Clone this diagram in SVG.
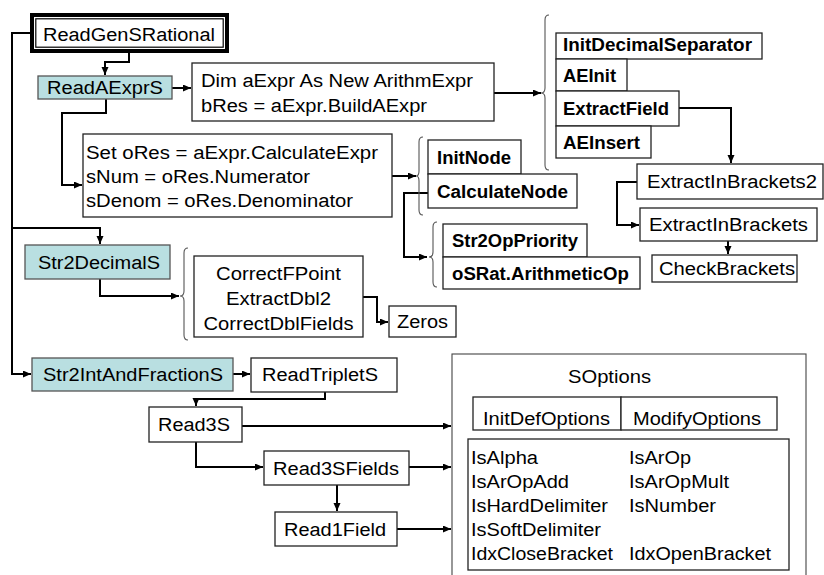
<svg xmlns="http://www.w3.org/2000/svg" width="824" height="575" viewBox="0 0 824 575">
<style>
text{font-family:"Liberation Sans",Arial,sans-serif;font-size:18px;fill:#000}
.b{font-weight:bold}
.box{fill:#fff;stroke:#222;stroke-width:1.3}
.teal{fill:#b9dfe1;stroke:#555;stroke-width:1.3}
.thin{fill:#fff;stroke:#444;stroke-width:1.1}
.c{fill:none;stroke:#000;stroke-width:2}
.br{fill:none;stroke:#555;stroke-width:1.1}
</style>
<defs>
<marker id="a" markerUnits="userSpaceOnUse" markerWidth="9" markerHeight="8" refX="8" refY="3.5" orient="auto">
<path d="M0,0 L8,3.5 L0,7 z" fill="#000"/>
</marker>
</defs>

<g id="connectors">
<polyline class="c" points="30,33 12,33 12,374 31,374" marker-end="url(#a)"/>
<polyline class="c" points="12,228 100,228 100,244" marker-end="url(#a)"/>
<polyline class="c" points="129,53 129,62 105,62 105,75" marker-end="url(#a)"/>
<polyline class="c" points="172,88 191,88" marker-end="url(#a)"/>
<polyline class="c" points="106,99 106,113 62,113 62,185 82,185" marker-end="url(#a)"/>
<polyline class="c" points="494,93 541,93" marker-end="url(#a)"/>
<polyline class="c" points="392,176 416,176" marker-end="url(#a)"/>
<polyline class="c" points="428,193 404,193 404,257 427,257" marker-end="url(#a)"/>
<polyline class="c" points="679,108 731,108 731,163" marker-end="url(#a)"/>
<polyline class="c" points="637,182 617,182 617,225 639,225" marker-end="url(#a)"/>
<polyline class="c" points="728,241 728,254" marker-end="url(#a)"/>
<polyline class="c" points="100,279 100,296 179,296" marker-end="url(#a)"/>
<polyline class="c" points="363,297 377,297 377,322 388,322" marker-end="url(#a)"/>
<polyline class="c" points="233,374 250,374" marker-end="url(#a)"/>
<polyline class="c" points="325,392 325,399 196,399 196,406" marker-end="url(#a)"/>
<polyline class="c" points="242,426 451,426" marker-end="url(#a)"/>
<polyline class="c" points="196,442 196,467 263,467" marker-end="url(#a)"/>
<polyline class="c" points="409,467 451,467" marker-end="url(#a)"/>
<polyline class="c" points="337,485 337,511" marker-end="url(#a)"/>
<polyline class="c" points="397,529 451,529" marker-end="url(#a)"/>
</g>

<g id="braces">
<path class="br" d="M549,15 Q545,15 545,20 L545,88 Q545,93 541,93 Q545,93 545,98 L545,165 Q545,170 549,170"/>
<path class="br" d="M423,137 Q419,137 419,142 L419,171 Q419,176 416,176 Q419,176 419,181 L419,210 Q419,215 423,215"/>
<path class="br" d="M437,222 Q433,222 433,227 L433,252 Q433,257 429,257 Q433,257 433,262 L433,282 Q433,287 437,287"/>
<path class="br" d="M188,248 Q184,248 184,253 L184,291 Q184,296 180,296 Q184,296 184,301 L184,335 Q184,340 188,340"/>
</g>

<g id="ReadGenSRational">
<rect x="32" y="15" width="195" height="36" fill="#fff" stroke="#000" stroke-width="4"/>
<rect x="35.8" y="18.8" width="187.4" height="28.4" fill="none" stroke="#000" stroke-width="1.2"/>
<text x="43" y="41" textLength="172" lengthAdjust="spacingAndGlyphs">ReadGenSRational</text>
</g>

<g id="ReadAExprS">
<rect class="teal" x="38" y="76" width="134" height="23"/>
<text x="47" y="94" textLength="116" lengthAdjust="spacingAndGlyphs">ReadAExprS</text>
</g>

<g id="DimBox">
<rect class="box" x="192" y="63" width="302" height="58"/>
<text x="201" y="87" textLength="272" lengthAdjust="spacingAndGlyphs">Dim aExpr As New ArithmExpr</text>
<text x="201" y="112" textLength="226" lengthAdjust="spacingAndGlyphs">bRes = aExpr.BuildAExpr</text>
</g>

<g id="SetBox">
<rect class="box" x="83" y="134" width="309" height="83"/>
<text x="86" y="159" textLength="292" lengthAdjust="spacingAndGlyphs">Set oRes = aExpr.CalculateExpr</text>
<text x="86" y="183" textLength="224" lengthAdjust="spacingAndGlyphs">sNum = oRes.Numerator</text>
<text x="86" y="207" textLength="267" lengthAdjust="spacingAndGlyphs">sDenom = oRes.Denominator</text>
</g>

<g id="InitDecimalSeparator">
<rect class="box" x="556" y="33" width="206" height="26"/>
<text class="b" x="563" y="51" textLength="189" lengthAdjust="spacingAndGlyphs">InitDecimalSeparator</text>
</g>
<g id="AEInit">
<rect class="box" x="556" y="59" width="71" height="32"/>
<text class="b" x="563" y="81.5" textLength="53" lengthAdjust="spacingAndGlyphs">AEInit</text>
</g>
<g id="ExtractField">
<rect class="box" x="556" y="91" width="123" height="35"/>
<text class="b" x="563" y="115" textLength="106" lengthAdjust="spacingAndGlyphs">ExtractField</text>
</g>
<g id="AEInsert">
<rect class="box" x="556" y="126" width="95" height="32"/>
<text class="b" x="563" y="148.5" textLength="77" lengthAdjust="spacingAndGlyphs">AEInsert</text>
</g>

<g id="ExtractInBrackets2">
<rect class="box" x="637" y="164" width="186" height="35"/>
<text x="647" y="188" textLength="170" lengthAdjust="spacingAndGlyphs">ExtractInBrackets2</text>
</g>
<g id="ExtractInBrackets">
<rect class="box" x="640" y="208" width="177" height="33"/>
<text x="649" y="231" textLength="159" lengthAdjust="spacingAndGlyphs">ExtractInBrackets</text>
</g>
<g id="CheckBrackets">
<rect class="box" x="652" y="255" width="145" height="27"/>
<text x="659" y="275" textLength="136" lengthAdjust="spacingAndGlyphs">CheckBrackets</text>
</g>

<g id="InitNode">
<rect class="box" x="428" y="140" width="93" height="34"/>
<text class="b" x="437" y="163.5" textLength="74" lengthAdjust="spacingAndGlyphs">InitNode</text>
</g>
<g id="CalculateNode">
<rect class="box" x="428" y="174" width="149" height="34"/>
<text class="b" x="437" y="197.5" textLength="131" lengthAdjust="spacingAndGlyphs">CalculateNode</text>
</g>
<g id="Str2OpPriority">
<rect class="box" x="443" y="224" width="144" height="33"/>
<text class="b" x="452" y="247" textLength="126" lengthAdjust="spacingAndGlyphs">Str2OpPriority</text>
</g>
<g id="ArithmeticOp">
<rect class="box" x="443" y="257" width="197" height="32"/>
<text class="b" x="452" y="279.5" textLength="177" lengthAdjust="spacingAndGlyphs">oSRat.ArithmeticOp</text>
</g>

<g id="Str2DecimalS">
<rect class="teal" x="25" y="245" width="145" height="34"/>
<text x="38" y="268.5" textLength="122" lengthAdjust="spacingAndGlyphs">Str2DecimalS</text>
</g>
<g id="CorrectFPoint">
<rect class="box" x="194" y="256" width="169" height="81"/>
<text x="278.5" y="280" text-anchor="middle" textLength="125" lengthAdjust="spacingAndGlyphs">CorrectFPoint</text>
<text x="278.5" y="305" text-anchor="middle" textLength="105" lengthAdjust="spacingAndGlyphs">ExtractDbl2</text>
<text x="278.5" y="330" text-anchor="middle" textLength="150" lengthAdjust="spacingAndGlyphs">CorrectDblFields</text>
</g>
<g id="Zeros">
<rect class="box" x="389" y="306" width="67" height="31"/>
<text x="397" y="328" textLength="51" lengthAdjust="spacingAndGlyphs">Zeros</text>
</g>

<g id="Str2IntAndFractionS">
<rect class="teal" x="32" y="358" width="201" height="33"/>
<text x="43" y="381" textLength="180" lengthAdjust="spacingAndGlyphs">Str2IntAndFractionS</text>
</g>
<g id="ReadTripletS">
<rect class="box" x="251" y="358" width="146" height="34"/>
<text x="262" y="381" textLength="116" lengthAdjust="spacingAndGlyphs">ReadTripletS</text>
</g>
<g id="Read3S">
<rect class="box" x="149" y="407" width="93" height="35"/>
<text x="158" y="431" textLength="72" lengthAdjust="spacingAndGlyphs">Read3S</text>
</g>
<g id="Read3SFields">
<rect class="box" x="264" y="451" width="145" height="34"/>
<text x="273" y="474.5" textLength="126" lengthAdjust="spacingAndGlyphs">Read3SFields</text>
</g>
<g id="Read1Field">
<rect class="box" x="275" y="512" width="122" height="34"/>
<text x="284" y="535.5" textLength="102" lengthAdjust="spacingAndGlyphs">Read1Field</text>
</g>

<g id="SOptions">
<rect class="thin" x="452" y="354" width="354" height="230"/>
<text x="568" y="383" textLength="83" lengthAdjust="spacingAndGlyphs">SOptions</text>
<rect class="box" x="473" y="397" width="148" height="33"/>
<text x="483" y="425" textLength="127" lengthAdjust="spacingAndGlyphs">InitDefOptions</text>
<rect class="box" x="621" y="397" width="156" height="33"/>
<text x="633" y="425" textLength="128" lengthAdjust="spacingAndGlyphs">ModifyOptions</text>
<rect class="box" x="468" y="439" width="321" height="131"/>
<text x="471" y="464" textLength="67" lengthAdjust="spacingAndGlyphs">IsAlpha</text>
<text x="471" y="488" textLength="98" lengthAdjust="spacingAndGlyphs">IsArOpAdd</text>
<text x="471" y="512" textLength="137" lengthAdjust="spacingAndGlyphs">IsHardDelimiter</text>
<text x="471" y="536" textLength="130" lengthAdjust="spacingAndGlyphs">IsSoftDelimiter</text>
<text x="471" y="560" textLength="142" lengthAdjust="spacingAndGlyphs">IdxCloseBracket</text>
<text x="629" y="464" textLength="62" lengthAdjust="spacingAndGlyphs">IsArOp</text>
<text x="629" y="488" textLength="100" lengthAdjust="spacingAndGlyphs">IsArOpMult</text>
<text x="629" y="512" textLength="87" lengthAdjust="spacingAndGlyphs">IsNumber</text>
<text x="629" y="560" textLength="142" lengthAdjust="spacingAndGlyphs">IdxOpenBracket</text>
</g>
</svg>
